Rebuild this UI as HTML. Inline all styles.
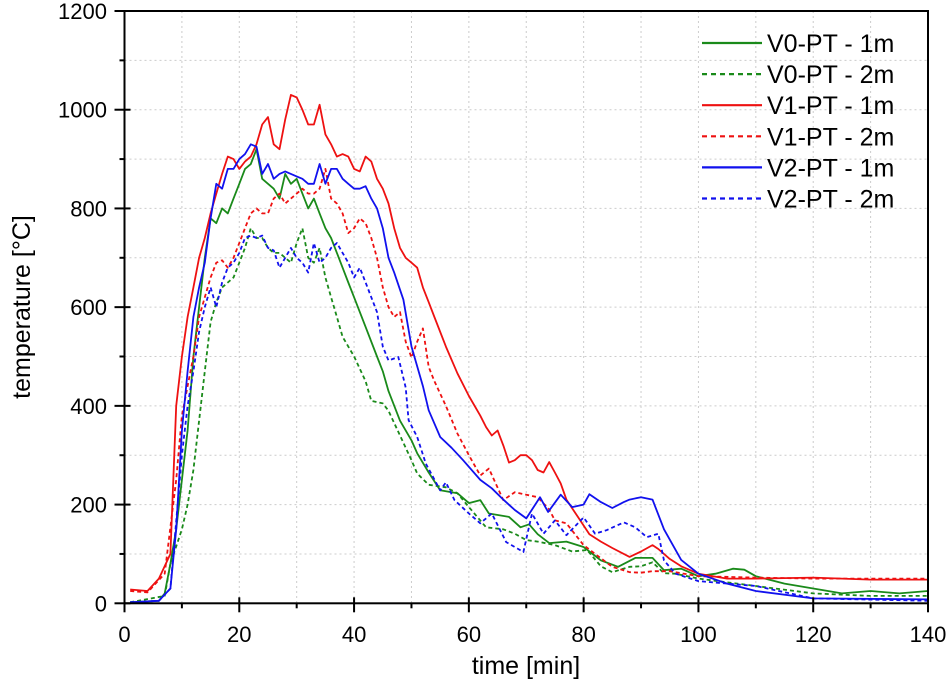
<!DOCTYPE html>
<html><head><meta charset="utf-8"><style>
body{margin:0;background:#fff;}
svg{display:block;font-family:"Liberation Sans",Arial,sans-serif;}
</style></head><body>
<svg id="chart" width="947" height="689"></svg>
<script>
const xTicks=[0,20,40,60,80,100,120,140];
const yTicks=[0,200,400,600,800,1000,1200];
const seriesNames=["V0-PT - 1m","V0-PT - 2m","V1-PT - 1m","V1-PT - 2m","V2-PT - 1m","V2-PT - 2m"];
const v0_1m=[[1,2],[6,5],[7,20],[8,80],[9,150],[10,250],[11,350],[12,500],[13,600],[14,700],[15,780],[16,770],[17,800],[18,790],[19,820],[20,850],[21,880],[22,890],[23,920],[24,860],[25,850],[26,840],[27,820],[28,870],[29,850],[30,860],[31,830],[32,800],[33,820],[34,790],[35,760],[36,740],[37,710],[38,680],[39,650],[40,620],[42,560],[44,500],[45,470],[46,430],[48,370],[50,330],[51,304],[53,265],[55,229],[58,223],[60,203],[62,209],[63.5,182],[67,175],[69,154],[70.5,160],[72,140],[74,122],[77,125],[80,114],[83,87],[86,74],[89,92],[92,92],[94,67],[97,70],[100,55],[103,60],[106,70],[108,68],[110,55],[115,40],[120,30],[125,20],[130,25],[135,20],[140,25]];
const v0_2m=[[1,2],[7,15],[8,80],[10,150],[11,200],[12,270],[13,370],[14,470],[15,570],[16,610],[17,640],[18,650],[19,660],[20,690],[21,720],[22,760],[23,740],[24,740],[25,720],[26,710],[27,710],[28,700],[29,690],[30,730],[31,760],[32,700],[33,690],[34,720],[35,660],[36,620],[37,580],[38,540],[40,500],[42,450],[43,410],[45,405],[46,390],[48,340],[50,290],[51,263],[53,240],[56,235],[58,223],[60,195],[63,154],[66,150],[68,141],[70,128],[72,125],[75,118],[78,105],[80.6,108],[83,75],[85,63],[88,74],[90,75],[92,83],[94,61],[96,60],[100,50],[110,35],[120,20],[130,15],[140,15]];
const v1_1m=[[1,28],[4,25],[6,50],[8,100],[9,400],[10,500],[11,580],[12,640],[13,700],[14,740],[15,790],[16,830],[17,870],[18,905],[19,900],[20,880],[21,895],[22,905],[23,930],[24,970],[25,985],[26,930],[27,920],[28,980],[29,1030],[30,1025],[31,1000],[32,970],[33,970],[34,1010],[35,950],[36,930],[37,905],[38,910],[39,905],[40,880],[41,875],[42,905],[43,895],[44,860],[45,840],[46,810],[47,760],[48,720],[49,700],[50,690],[51,680],[52,640],[53,610],[54,580],[56,520],[58,466],[60,420],[62,380],[63,357],[64,340],[65,350],[66,320],[67,285],[68,290],[69,300],[70,300],[71,290],[72,270],[73,265],[74,286],[75,265],[76,243],[77,210],[79,175],[81,140],[83,125],[85,112],[88,94],[90,105],[92,118],[93,110],[95,90],[97,75],[100,60],[105,50],[110,50],[120,52],[130,48],[140,48]];
const v1_2m=[[1,25],[4,22],[7,60],[9,250],[10,380],[11,440],[12,500],[13,580],[14,620],[15,660],[16,690],[17,695],[18,680],[19,700],[20,730],[21,760],[22,790],[23,800],[24,790],[25,790],[26,820],[27,830],[28,810],[29,820],[30,830],[31,840],[32,830],[33,830],[34,840],[35,880],[36,820],[37,810],[38,790],[39,750],[40,760],[41,780],[42,770],[43,740],[44,700],[45,640],[46,600],[47,580],[48,590],[49,530],[50,498],[51,530],[52,557],[53,479],[54,450],[56,400],[58,344],[60,300],[62,259],[63.5,273],[66,209],[68,225],[70,220],[72,215],[74,190],[75,168],[77,162],[80,118],[82,100],[85,74],[88,63],[90,62],[92,65],[95,65],[100,55],[110,52],[120,50],[130,50],[140,50]];
const v2_1m=[[1,2],[6,5],[8,30],[9,150],[10,350],[11,470],[12,580],[13,640],[14,690],[15,780],[16,850],[17,840],[18,880],[19,880],[20,900],[21,910],[22,930],[23,925],[24,870],[25,890],[26,860],[27,870],[28,875],[29,870],[30,865],[31,860],[32,850],[33,850],[34,890],[35,850],[36,880],[37,880],[38,860],[39,850],[40,840],[41,840],[42,845],[43,820],[44,800],[45,760],[46,700],[47,670],[48.6,615],[50,520],[52,440],[53,391],[55,337],[57,315],[59,290],[62,250],[64,233],[66,210],[68,189],[70,172],[72.4,215],[73.8,185],[76,220],[78,195],[80,200],[81,221],[83,205],[85,193],[87,205],[88,210],[90,215],[92,210],[94,150],[97,88],[100,60],[105,40],[110,25],[120,10],[140,8]];
const v2_2m=[[1,2],[6,5],[8,30],[10,300],[11,400],[12,470],[13,550],[14,600],[15,640],[16,600],[17,650],[18,680],[19,690],[20,710],[21,740],[22,745],[23,740],[24,745],[25,720],[26,715],[27,680],[28,700],[29,720],[30,700],[31,690],[32,670],[33,730],[34,690],[35,700],[36,720],[37,730],[38,710],[39,690],[40,660],[41,680],[42,650],[43,620],[44,590],[45,520],[46,492],[47.7,499],[49,437],[49.5,371],[51,337],[52.5,283],[55,229],[56,245],[57.5,209],[60,182],[62,162],[64,182],[66.5,124],[69.5,104],[71,182],[73,141],[75,168],[77,138],[80,174],[82,141],[84,148],[87,164],[89,154],[91,134],[93,141],[94,87],[96,60],[100,45],[110,35],[120,10],[140,5]];

const svg=document.getElementById('chart');
const NS='http://www.w3.org/2000/svg';
const L=124.5,R=928,T=11,B=603.3;
const xs=t=>L+t*(R-L)/140;
const ys=v=>B-v*(B-T)/1200;
function mk(tag,attrs,parent){const e=document.createElementNS(NS,tag);for(const k in attrs)e.setAttribute(k,attrs[k]);(parent||svg).appendChild(e);return e;}

const grid=mk('g',{});


for(let t=10;t<140;t+=10){mk('line',{x1:xs(t),x2:xs(t),y1:T,y2:B,stroke:'#ccc','stroke-width':1,'stroke-dasharray':'2,3'},grid);}
for(let v=100;v<1200;v+=100){mk('line',{x1:L,x2:R,y1:ys(v),y2:ys(v),stroke:'#ccc','stroke-width':1,'stroke-dasharray':'2,3'},grid);}

const seriesData=[v0_1m,v0_2m,v1_1m,v1_2m,v2_1m,v2_2m];
const colors=['#1a8a1a','#1a8a1a','#ee1111','#ee1111','#1111ee','#1111ee'];
const dashes=['none','4,3','none','4,3','none','4,3'];
const sg=mk('g',{});


seriesData.forEach((d,i)=>{
  const p=mk('polyline',{points:d.map(q=>xs(q[0]).toFixed(1)+','+ys(q[1]).toFixed(1)).join(' '),fill:'none',stroke:colors[i],'stroke-width':1.8,'stroke-dasharray':dashes[i],'stroke-linejoin':'round'},sg);
  
  
});

const frame=mk('rect',{x:L,y:T,width:R-L,height:B-T,fill:'none',stroke:'#000','stroke-width':2});



const xa=mk('g',{});


for(let t=0;t<=140;t+=10){const major=t%20===0;mk('line',{x1:xs(t),x2:xs(t),y1:major?B-6:B,y2:B+(major?9:5),stroke:'#000','stroke-width':2},xa);}
xTicks.forEach(t=>{const e=mk('text',{x:xs(t),y:642,'font-size':22,'text-anchor':'middle'},xa);e.textContent=t;

});
const ya=mk('g',{});


for(let v=0;v<=1200;v+=100){const major=v%200===0;mk('line',{x1:L-(major?10:5),x2:major?L+6:L,y1:ys(v),y2:ys(v),stroke:'#000','stroke-width':2},ya);}
yTicks.forEach(v=>{const e=mk('text',{x:107,y:ys(v)+8,'font-size':22,'text-anchor':'end'},ya);e.textContent=v;

});

const xt=mk('text',{x:526,y:674,'font-size':25,'text-anchor':'middle'});
xt.textContent='time [min]';


const yt=mk('text',{x:30,y:307,'font-size':25,'text-anchor':'middle',transform:'rotate(-90 30 307)'});
yt.textContent='temperature [°C]';



const lg=mk('g',{});


seriesNames.forEach((n,i)=>{
  const y=43+i*31.1;
  mk('line',{x1:702,x2:762,y1:y,y2:y,stroke:colors[i],'stroke-width':2.2,'stroke-dasharray':dashes[i]==='none'?'none':'5,4'},lg);
  const e=mk('text',{x:767,y:y+9,'font-size':25},lg);e.textContent=n;
  
  
});
</script>
</body></html>
